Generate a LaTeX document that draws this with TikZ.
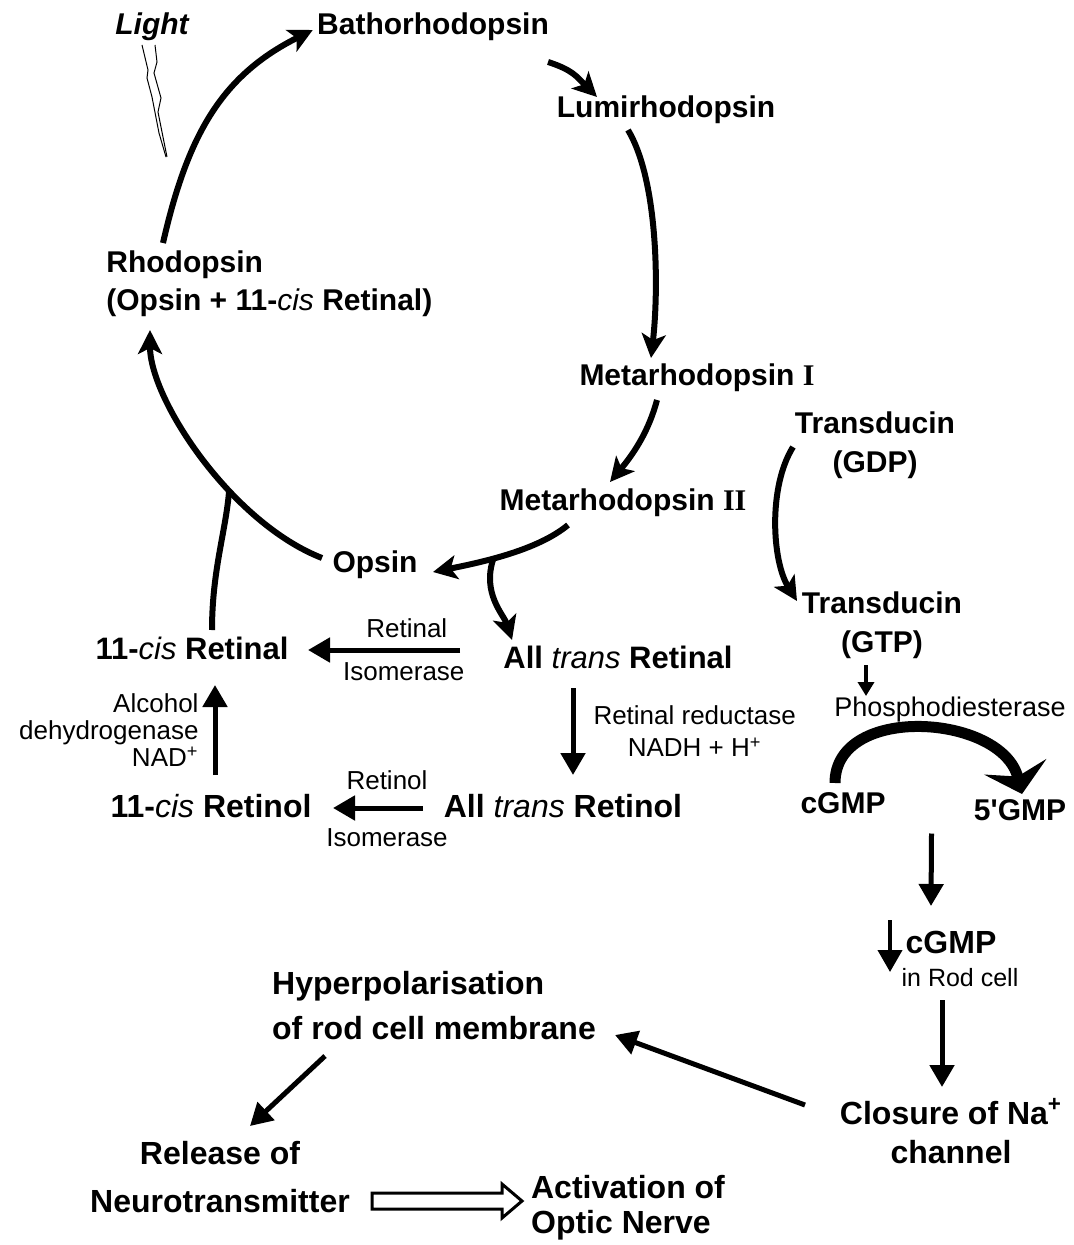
\documentclass[tikz,border=0pt]{standalone}
\usepackage{fontspec}
\setmainfont{Liberation Sans}
\newfontfamily\romnum{Liberation Serif}
\usetikzlibrary{arrows.meta}
\usetikzlibrary{calc}
\usetikzlibrary{positioning}
\newcommand{\isoText}[1]{{\mdseries\itshape #1}}
\newcommand{\drawHollowArrow}[2]{
	\draw[line width=1.5pt, line join=miter] ($(#1)+(0,-8)$) -- ++(#2,0) -- ++(0,-9) -- ++(20,17) -- ++(-20,17) -- ++(0,-9) -- ++(-#2,0) -- cycle;
}
\tikzset{
	pigment/.style={font=\bfseries\fontsize{15}{19.5}\selectfont, inner sep=1pt, align=center},
	product/.style={font=\bfseries\fontsize{15.5}{19}\selectfont, inner sep=1pt},
	outcome/.style={font=\bfseries\fontsize{16}{20}\selectfont, inner sep=1pt},
	enzyme/.style={font=\fontsize{13}{16}\selectfont, inner sep=1pt},
	cyclearrow/.style={line width=3pt, -{Stealth[length=12pt,width=12pt,inset=3pt]}},
	flowarrow/.style={line width=2.5pt, -{Triangle[length=11pt,width=12pt]}},
	thinarrow/.style={line width=2pt, -{Triangle[length=7pt,width=8pt]}},
	hydrolysis/.style={line width=5.5pt, -{Stealth[length=14pt,width=32pt,inset=5pt]}},
	bolt/.style={line width=0.5pt}
}

\begin{document}
\begin{tikzpicture}[x=0.5pt, y=-0.5pt]
		\useasboundingbox (0,0) rectangle (1074,1245);

		\node[font=\bfseries\itshape\fontsize{15}{17}\selectfont] (light) at (152,27) {Light};
		\node[pigment] (batho) at (433,27) {Bathorhodopsin};
		\node[pigment] (lumi) at (666,110) {Lumirhodopsin};
		\node[pigment, anchor=west] (rhod) at (104,265) {Rhodopsin};
		\node[pigment, anchor=west] (rhodsub) at (104,303) {(Opsin + 11-\isoText{cis} Retinal)};
		\node[pigment] (meta1) at (697,378) {Metarhodopsin {\romnum\bfseries I}};
		\node[pigment] (meta2) at (623,503) {Metarhodopsin {\romnum\bfseries II}};
		\node[pigment] (opsin) at (375,565) {Opsin};
		\node[pigment] (tgdp) at (875,445) {Transducin\\(GDP)};
		\node[pigment] (tgtp) at (882,625) {Transducin\\(GTP)};

		\node[product] (cisal) at (192,648) {11-\isoText{cis} Retinal};
		\node[product] (transal) at (618,657) {All \isoText{trans} Retinal};
		\node[outcome] (cisol) at (211,806) {11-\isoText{cis} Retinol};
		\node[outcome] (transol) at (563,806) {All \isoText{trans} Retinol};

		\node[enzyme, font=\fontsize{13.5}{16}\selectfont] (pde) at (950,710) {Phosphodiesterase};
		\node[pigment] (cgmp) at (843,803) {cGMP};
		\node[pigment] (gmp5) at (1020,810) {5\textquotesingle GMP};
		\node[outcome] (cgmplow) at (951,942) {cGMP};
		\node[enzyme, font=\fontsize{12.5}{14}\selectfont, below=5pt of cgmplow, xshift=4.5pt] (rodcell) {in Rod cell};
		\coordinate (react) at ($(cgmp)!0.5!(gmp5)+(0,27)$);

		\node[outcome, font=\bfseries\fontsize{16}{22.5}\selectfont, align=left] (hyper) at (434,1006) {Hyperpolarisation\\of rod cell membrane};
		\node[outcome, font=\bfseries\fontsize{16}{19.5}\selectfont, align=center] (closure) at (951,1131) {Closure of Na\textsuperscript{+}\\channel};
		\node[outcome, font=\bfseries\fontsize{16}{24}\selectfont, align=center] (release) at (220,1177) {Release of\\Neurotransmitter};
		\node[outcome, font=\bfseries\fontsize{16}{17.5}\selectfont, align=left] (activ) at (628,1208) {Activation of\\Optic Nerve};

		\draw[bolt] ($(light)+(-10,18)$) -- ++(6,25) -- ++(-1,8) -- ++(5,19) -- ++(7,36) -- ++(7,24);
		\draw[bolt] ($(light)+(3,18)$) -- ++(2,17) -- ++(-3,11) -- ++(7,25) -- ++(-3,14) -- ++(9,45);

		\draw[cyclearrow] ($(rhod.west)+(59,-22)$) .. controls +(25,-110) and +(-90,45) .. ($(batho.west)+(-2,3)$);
		\draw[cyclearrow] ($(batho)+(115,35)$) .. controls +(25,8) and +(-20,-20) .. ($(lumi)+(-69,-13)$);
		\draw[cyclearrow] ($(lumi)+(-38,20)$) .. controls +(30,50) and +(8,-70) .. ($(meta1)+(-46,-20)$);
		\draw[cyclearrow] ($(meta1)+(-40,22)$) .. controls +(-8,30) and +(25,-30) .. ($(meta2)+(-13,-21)$);
		\draw[cyclearrow] ($(meta2)+(-55,22)$) .. controls +(-30,25) and +(50,-10) .. coordinate[pos=0.6] (split) ($(opsin)+(58,7)$);
		\draw[cyclearrow] (split) .. controls +(-12,35) and +(-8,-25) .. ($(transal)+(-106,-17)$);
		\draw[cyclearrow] ($(opsin)+(-53,-7)$) .. controls +(-90,-35) and +(0,70) .. coordinate[pos=0.37] (join) ($(rhodsub.west)+(46,27)$);
		\draw[line width=3pt] ($(cisal)+(20,-18)$) .. controls +(0,-60) and +(-3,40) .. (join);

		\draw[flowarrow] ($(transal)+(-158,-7)$) -- node[enzyme, pos=0.35, above=4pt] (risoma) {Retinal} node[enzyme, pos=0.37, below=4pt] (risomb) {Isomerase} ($(cisal)+(116,2)$);
		\draw[flowarrow] ($(transal)+(-45,31)$) -- node[enzyme, right=8pt, align=center] (reduct) {Retinal reductase\\NADH + H\textsuperscript{+}} ($(transol)+(10,-31)$);
		\draw[flowarrow] ($(transol)+(-140,2)$) -- node[enzyme, pos=0.4, above=7pt] (rolisoma) {Retinol} node[enzyme, pos=0.4, below=8pt] (rolisomb) {Isomerase} ($(cisol)+(122,2)$);
		\draw[flowarrow] ($(cisol)+(4,-31)$) -- node[enzyme, font=\fontsize{13}{13.5}\selectfont, left=6pt, align=right] (alcdh) {Alcohol\\dehydrogenase\\NAD\textsuperscript{+}} ($(cisal)+(23,37)$);

		\draw[cyclearrow] ($(tgdp)+(-82,2)$) .. controls +(-25,40) and +(-25,-40) .. ($(tgtp)+(-85,-24)$);
		\draw[thinarrow] ($(tgtp)+(-16,40)$) -- ($(pde)+(-84,-14)$);
		\draw[hydrolysis] ($(cgmp)+(-8,-20)$) .. controls +(0,-80) and +(-20,-80) .. ($(gmp5)+(2,-16)$);
		\draw[flowarrow] (react) -- ($(cgmplow)+(-20,-36)$);
		\draw[flowarrow, line width=2pt] ($(cgmplow)+(-61,-22)$) -- ($(cgmplow)+(-61,30)$);
		\draw[flowarrow] ($(cgmplow)+(-9,58)$) -- ($(closure)+(-9,-44)$);
		\draw[flowarrow] ($(closure)+(-146,-26)$) -- ($(hyper)+(181,29)$);
		\draw[flowarrow] ($(hyper)+(-109,50)$) -- ($(release)+(30,-51)$);
		\coordinate (hollowstart) at ($(release)+(152,24)$);
		\drawHollowArrow{hollowstart}{130}

	\end{tikzpicture}
\end{document}
